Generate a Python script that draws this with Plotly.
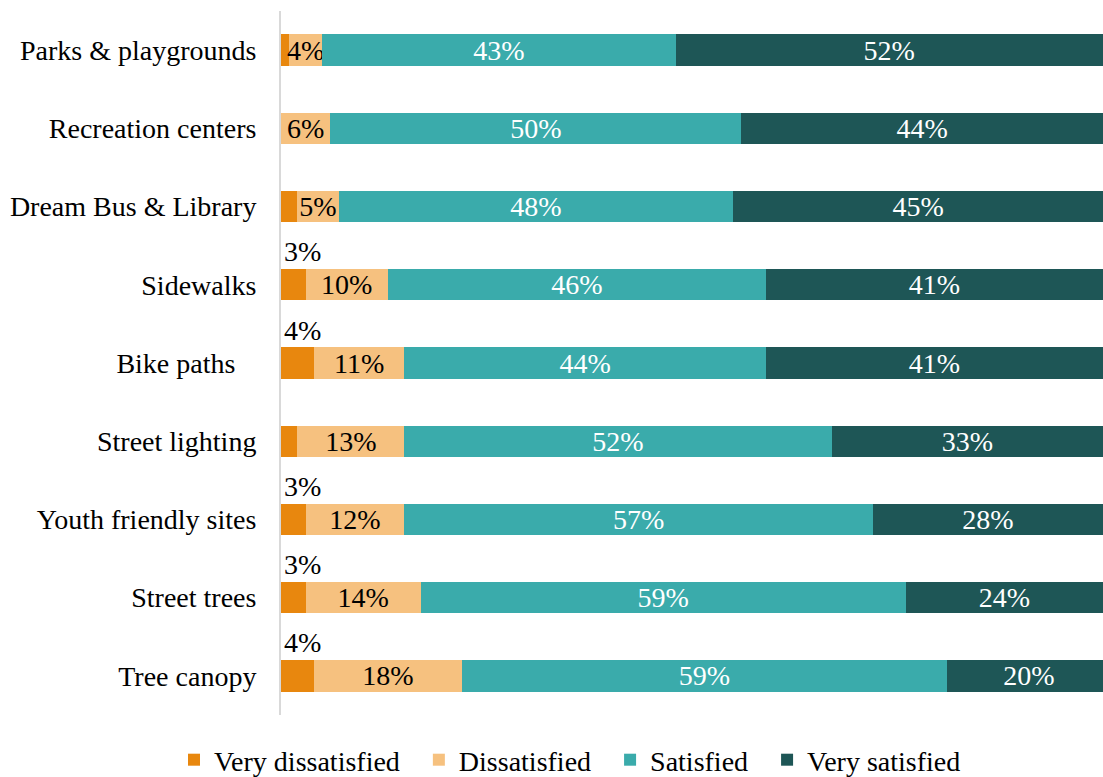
import plotly.graph_objects as go

categories = ["Parks & playgrounds", "Recreation centers", "Dream Bus & Library",
              "Sidewalks", "Bike paths\u00a0\u00a0\u00a0", "Street lighting",
              "Youth friendly sites", "Street trees", "Tree canopy"]
very_dissatisfied = [1, 0, 2, 3, 4, 2, 3, 3, 4]
dissatisfied = [4, 6, 5, 10, 11, 13, 12, 14, 18]
satisfied = [43, 50, 48, 46, 44, 52, 57, 59, 59]
very_satisfied = [52, 44, 45, 41, 41, 33, 28, 24, 20]
series_names = ["Very dissatisfied", "Dissatisfied", "Satisfied", "Very satisfied"]

colors = ["#E8870E", "#F6C17F", "#3AABAB", "#1E5656"]
text_colors = ["black", "black", "white", "white"]
FONT = "Liberation Serif"
FS = 28

fig = go.Figure()
for i, (name, vals) in enumerate(zip(series_names,
                                     [very_dissatisfied, dissatisfied, satisfied, very_satisfied])):
    show_text = i > 0
    fig.add_trace(go.Bar(
        name=name + "\u00a0\u00a0",
        y=categories, x=vals, orientation="h",
        marker=dict(color=colors[i], line=dict(width=0)),
        text=[f"{v}%" for v in vals] if show_text else None,
        texttemplate="%{text}" if show_text else None,
        textposition="inside" if show_text else "none",
        insidetextanchor="middle",
        textangle=0,
        constraintext="none",
        insidetextfont=dict(family=FONT, size=FS, color=text_colors[i]),
        hoverinfo="skip",
    ))

annotations = []
for cat, v in zip(categories, very_dissatisfied):
    if v >= 3:
        annotations.append(dict(
            x=0, y=cat, xref="x", yref="y", text=f"{v}%", showarrow=False,
            xanchor="left", yanchor="middle", xshift=1, yshift=33,
            font=dict(family=FONT, size=FS, color="black")))

fig.update_layout(
    barmode="stack",
    bargap=0.6,
    width=1103, height=777,
    margin=dict(l=281, r=0, t=11, b=62, autoexpand=False),
    paper_bgcolor="white", plot_bgcolor="white",
    font=dict(family=FONT, size=FS, color="black"),
    xaxis=dict(range=[0, 100], showgrid=False, showticklabels=False, zeroline=False,
               showline=False, ticks=""),
    yaxis=dict(range=[len(categories) - 0.5, -0.5], showgrid=False, zeroline=False,
               showline=True, linecolor="#D9D9D9", linewidth=2, ticks="",
               ticklabelstandoff=17, tickfont=dict(family=FONT, size=FS, color="black")),
    legend=dict(orientation="h", xref="container", yref="container",
                x=174 / 1103, xanchor="left", y=1 - 760 / 777, yanchor="middle",
                font=dict(family=FONT, size=FS, color="black"), traceorder="normal",
                itemclick=False),
    annotations=annotations,
    showlegend=True,
)

fig.write_html("out.html")
